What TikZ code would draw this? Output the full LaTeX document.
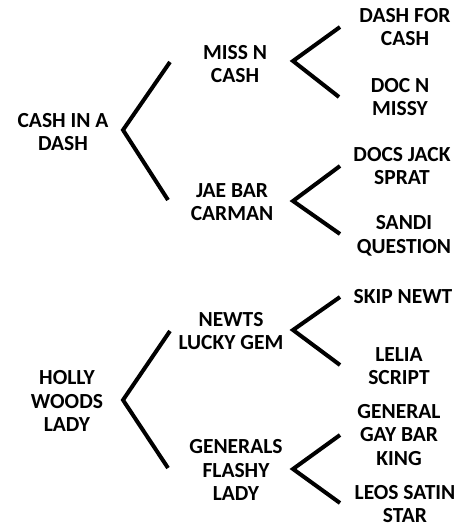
\documentclass[tikz,border=0pt]{standalone}
\usepackage{fontspec}
\setmainfont{Carlito}

\begin{document}
\begin{tikzpicture}[x=1pt,y=-1pt,
  horse/.style={font=\bfseries\fontsize{21.5}{23.5}\selectfont, align=center, inner sep=0pt},
  branch/.style={line width=4pt}]
  \useasboundingbox (0,0) rectangle (457,529);

  % First pedigree: sire, dam and grandparents
  \node[horse] (cashdash)  at (63,132)  {CASH IN A\\DASH};
  \node[horse] (missn)     at (235,64)  {MISS N\\CASH};
  \node[horse] (jaebar)    at (232,202) {JAE BAR\\CARMAN};
  \node[horse] (dashfor)   at (405,27)  {DASH FOR\\CASH};
  \node[horse] (docn)      at (400,97)  {DOC N\\MISSY};
  \node[horse] (docsjack)  at (402,166) {DOCS JACK\\SPRAT};
  \node[horse] (sandi)     at (404,236) {SANDI\\QUESTION};

  % Second pedigree
  \node[horse] (holly)     at (67,401)  {HOLLY\\WOODS\\LADY};
  \node[horse] (newts)     at (231,331) {NEWTS\\LUCKY GEM};
  \node[horse] (generals)  at (236,470) {GENERALS\\FLASHY\\LADY};
  \node[horse] (skip)      at (403,297) {SKIP NEWT};
  \node[horse] (lelia)     at (399,366) {LELIA\\SCRIPT};
  \node[horse] (gaybar)    at (399,435) {GENERAL\\GAY BAR\\KING};
  \node[horse] (leos)      at (405,504) {LEOS SATIN\\STAR};

  % Fork points (vertex and two tips of each bracket)
  \coordinate (cashdash fork) at (123,130);
  \coordinate (cashdash up)   at (170,62);
  \coordinate (cashdash down) at (168,200);
  \coordinate (missn fork)    at (293,61);
  \coordinate (missn up)      at (340,27);
  \coordinate (missn down)    at (339,97);
  \coordinate (jaebar fork)   at (293,201);
  \coordinate (jaebar up)     at (340,166);
  \coordinate (jaebar down)   at (340,234);

  \coordinate (holly fork)    at (123,400);
  \coordinate (holly up)      at (170,331);
  \coordinate (holly down)    at (168,468);
  \coordinate (newts fork)    at (293,330);
  \coordinate (newts up)      at (340,297);
  \coordinate (newts down)    at (340,365);
  \coordinate (generals fork) at (293,469);
  \coordinate (generals up)   at (340,435);
  \coordinate (generals down) at (340,503);

  % Brackets
  \foreach \h in {cashdash,missn,jaebar,holly,newts,generals}
    \draw[branch] (\h\space up) -- (\h\space fork) -- (\h\space down);
\end{tikzpicture}
\end{document}
